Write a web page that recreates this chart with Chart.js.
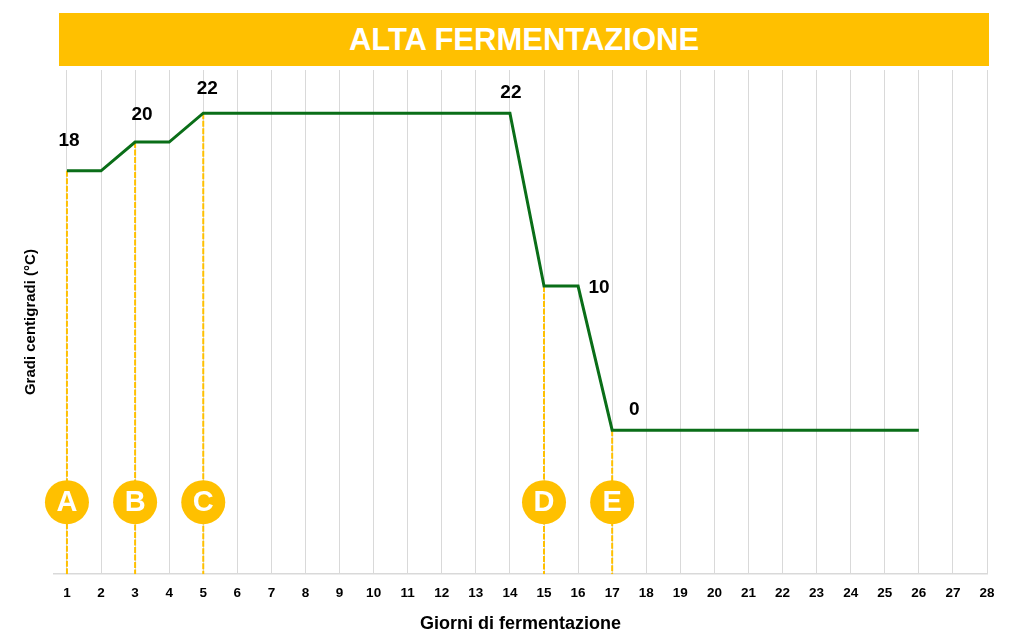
<!DOCTYPE html>
<html>
<head>
<meta charset="utf-8">
<script src="https://cdn.jsdelivr.net/npm/chart.js@4/dist/chart.umd.min.js"></script>
<style>
  html, body { margin: 0; padding: 0; background: #fff; }
  #wrap { position: relative; width: 1023px; height: 642px; }
  #title {
    position: absolute; left: 59px; top: 13px; width: 930px; height: 53px;
    background: #FFC000; color: #fff;
    display: flex; align-items: center; justify-content: center;
    font: bold 31px "Liberation Sans", Arial, sans-serif; z-index: 2;
  }
  canvas { position: absolute; left: 0; top: 0; }
</style>
</head>
<body>
<div id="wrap">
  <div id="title">ALTA FERMENTAZIONE</div>
  <canvas id="c" width="1023" height="642"></canvas>
</div>
<script>
// ---- data ----
const days = [1,2,3,4,5,6,7,8,9,10,11,12,13,14,15,16,17,18,19,20,21,22,23,24,25,26];
const temps = [18,18,20,20,22,22,22,22,22,22,22,22,22,22,10,10,0,0,0,0,0,0,0,0,0,0];
const xTickLabels = ['1','2','3','4','5','6','7','8','9','10','11','12','13','14','15','16','17','18','19','20','21','22','23','24','25','26','27','28'];
const markerDays = [1,3,5,15,17];
const markerLetters = ['A','B','C','D','E'];
const markerLevel = -5;
const labelDays = [1,3,5,14,16,17];
const yMin = -10, yMax = 25;

// ---- styles ----
const FONT = '"Liberation Sans", Arial, sans-serif';
const GREEN = '#0a6e18';
const GOLD = '#FFC000';
const labelOffsets = [[2,-30],[7,-27],[4,-24],[1,-20],[21,2],[22,-20]];

const tempAt = d => temps[days.indexOf(d)];

const lineData = days.map((d, i) => ({x: d, y: temps[i]}));
const dashSets = markerDays.map(d => ({
  type: 'line',
  data: [{x: d, y: tempAt(d)}, {x: d, y: yMin}],
  borderColor: GOLD, borderWidth: 2, borderDash: [6, 1.5],
  pointRadius: 0, fill: false, order: 3
}));

const valueLabels = {
  id: 'valueLabels',
  afterDatasetsDraw(chart) {
    const meta = chart.getDatasetMeta(0);
    const ctx = chart.ctx;
    ctx.save();
    ctx.font = 'bold 19px ' + FONT;
    ctx.fillStyle = '#000';
    ctx.textAlign = 'center';
    ctx.textBaseline = 'middle';
    labelDays.forEach((d, k) => {
      const el = meta.data[days.indexOf(d)];
      ctx.fillText(String(tempAt(d)), el.x + labelOffsets[k][0], el.y + labelOffsets[k][1]);
    });
    // letters in circles
    const cm = chart.getDatasetMeta(1);
    ctx.font = 'bold 29px ' + FONT;
    ctx.fillStyle = '#fff';
    cm.data.forEach((el, i) => {
      ctx.fillText(markerLetters[i], el.x, el.y + 1);
    });
    ctx.restore();
  }
};

new Chart(document.getElementById('c'), {
  type: 'line',
  data: {
    datasets: [
      { data: lineData, borderColor: GREEN, borderWidth: 3, pointRadius: 0, fill: false, order: 1, tension: 0 },
      { type: 'scatter', data: markerDays.map(d => ({x: d, y: markerLevel})), pointRadius: 22, pointHoverRadius: 22,
        backgroundColor: GOLD, borderWidth: 0, order: 0, clip: false },
      ...dashSets
    ]
  },
  options: {
    responsive: false,
    animation: false,
    events: [],
    layout: { padding: { top: 70, right: 36, bottom: 7, left: 21 } },
    plugins: { legend: { display: false }, title: { display: false }, tooltip: { enabled: false } },
    scales: {
      x: {
        type: 'linear', min: 0.62, max: 28,
        afterBuildTicks: axis => { axis.ticks = xTickLabels.map((_, i) => ({ value: i + 1 })); },
        ticks: { autoSkip: false, maxRotation: 0, padding: 11, color: '#000',
                 font: { family: FONT, size: 13.5, weight: 'bold' },
                 callback: (v, i) => xTickLabels[i] },
        grid: { color: '#d9d9d9', lineWidth: 1, drawTicks: false },
        border: { display: true, color: '#d9d9d9', width: 1.5 },
        title: { display: true, text: 'Giorni di fermentazione', color: '#000',
                 font: { family: FONT, size: 18, weight: 'bold' }, padding: { top: 1, bottom: 0 } }
      },
      y: {
        min: yMin, max: yMax,
        ticks: { display: false },
        grid: { display: false, drawTicks: false },
        border: { display: false },
        title: { display: true, text: 'Gradi centigradi (°C)', color: '#000',
                 font: { family: FONT, size: 15, weight: 'bold' }, padding: { top: 1, bottom: 14 } }
      }
    }
  },
  plugins: [valueLabels]
});
</script>
</body>
</html>
